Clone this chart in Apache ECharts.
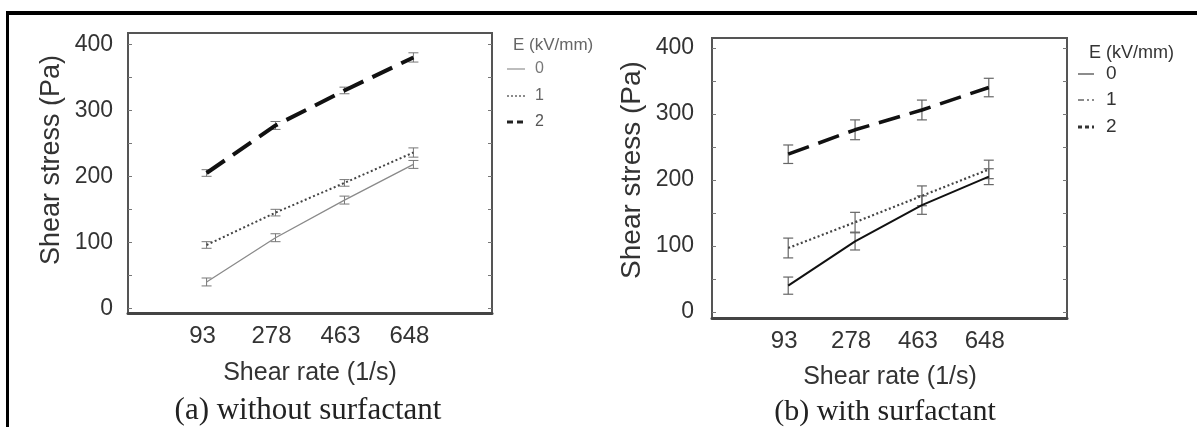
<!DOCTYPE html>
<html>
<head>
<meta charset="utf-8">
<script src="https://cdn.jsdelivr.net/npm/echarts@6/dist/echarts.min.js"></script>
<style>
  html, body { margin: 0; padding: 0; background: #fff; }
  #c { width: 1197px; height: 427px; }
</style>
</head>
<body>
<div id="c"></div>
<script>
// Shear rate categories (1/s) and stress tick labels (Pa)
const shearRates = ['93', '278', '463', '648'];
const stressTicks = [0, 100, 200, 300, 400];
const stressMinorTicks = [0, 50, 100, 150, 200, 250, 300, 350, 400];
const fieldLevels = ['0', '1', '2'];

// (a) without surfactant: shear stress at E = 0, 1, 2 kV/mm
const plainE0 = [40, 107, 164, 218];
const plainE1 = [96, 145, 190, 236];
const plainE2 = [205, 277, 330, 380];
const plainErrE0 = [6, 6, 6, 6];
const plainErrE1 = [5, 5, 5, 7];
const plainErrE2 = [5, 6, 5, 7];

// (b) with surfactant
const surfE0 = [40, 107, 162, 205];
const surfE1 = [97, 136, 176, 216];
const surfE2 = [239, 276, 306, 340];
const surfErrE0 = [13, 13, 14, 12];
const surfErrE1 = [15, 15, 15, 14];
const surfErrE2 = [14, 15, 15, 14];

const SANS = '"Liberation Sans", Arial, sans-serif';
const SERIF = '"Liberation Serif", "Times New Roman", serif';

const pts = vals => vals.map((v, i) => [i, v]);
const errPts = (vals, errs) => vals.map((v, i) => [i, v, errs[i]]);

function errorBars(name, vals, errs, xi, yi, color, lw) {
  return {
    type: 'custom',
    name: name + '-err',
    xAxisIndex: xi,
    yAxisIndex: yi,
    encode: { x: 0, y: 1 },
    z: 3,
    silent: true,
    data: errPts(vals, errs),
    renderItem: (params, api) => {
      const x = api.value(0), y = api.value(1), e = api.value(2);
      const top = api.coord([x, y + e]);
      const bot = api.coord([x, y - e]);
      const hw = 5;
      const st = { stroke: color, lineWidth: lw };
      return {
        type: 'group',
        children: [
          { type: 'line', shape: { x1: top[0], y1: top[1], x2: bot[0], y2: bot[1] }, style: st },
          { type: 'line', shape: { x1: top[0] - hw, y1: top[1], x2: top[0] + hw, y2: top[1] }, style: st },
          { type: 'line', shape: { x1: bot[0] - hw, y1: bot[1], x2: bot[0] + hw, y2: bot[1] }, style: st }
        ]
      };
    }
  };
}

function lineSeries(name, vals, xi, yi, color, width, type) {
  return {
    type: 'line',
    name: name,
    xAxisIndex: xi,
    yAxisIndex: yi,
    data: pts(vals),
    symbol: 'none',
    z: 4,
    lineStyle: { color: color, width: width, type: type },
    itemStyle: { color: color }
  };
}

function xAxisFor(grid, max) {
  return {
    gridIndex: grid,
    type: 'value',
    min: -1.14,
    max: max,
    splitLine: { show: false },
    axisTick: { show: false },
    axisLine: { show: true, onZero: false, lineStyle: { color: '#444', width: 3 } },
    axisLabel: {
      customValues: [0, 1, 2, 3],
      formatter: v => shearRates[Math.round(v)],
      fontFamily: SANS,
      fontSize: 24,
      color: '#333',
      margin: 11,
      padding: [0, 8, 0, 0]
    }
  };
}

function yAxisFor(grid, min, max, side) {
  return {
    gridIndex: grid,
    type: 'value',
    min: min,
    max: max,
    position: side,
    splitLine: { show: false },
    axisLine: { show: false, onZero: false },
    axisTick: {
      show: true, inside: true, length: 4,
      customValues: stressMinorTicks,
      lineStyle: { color: '#777', width: 1 }
    },
    axisLabel: side === 'left' ? {
      customValues: stressTicks,
      fontFamily: SANS,
      fontSize: 23,
      color: '#333',
      margin: grid === 0 ? 15 : 18
    } : { show: false }
  };
}

// legend key: a short line sample followed by the field level
function legendKey(x0, x1, y, label, stroke, width, dash, fontSize, textColor, textX) {
  return [
    { type: 'line', shape: { x1: x0, y1: y, x2: x1, y2: y },
      style: { stroke: stroke, lineWidth: width, lineDash: dash } },
    { type: 'text', x: textX, y: y,
      style: { text: label, fontFamily: SANS, fontSize: fontSize, fill: textColor, align: 'left', verticalAlign: 'middle' } }
  ];
}

const chart = echarts.init(document.getElementById('c'), null, { renderer: 'canvas' });

chart.setOption({
  animation: false,
  backgroundColor: '#fff',
  grid: [
    { left: 128, top: 33, width: 364, height: 280, show: true, borderColor: '#555', borderWidth: 2 },
    { left: 712, top: 38, width: 355, height: 280, show: true, borderColor: '#555', borderWidth: 2 }
  ],
  xAxis: [xAxisFor(0, 4.14), xAxisFor(1, 4.17)],
  yAxis: [
    yAxisFor(0, -7, 417, 'left'),
    yAxisFor(0, -7, 417, 'right'),
    yAxisFor(1, -9, 415, 'left'),
    yAxisFor(1, -9, 415, 'right')
  ],
  series: [
    lineSeries(fieldLevels[0], plainE0, 0, 0, '#8a8a8a', 1.3, 'solid'),
    lineSeries(fieldLevels[1], plainE1, 0, 0, '#444', 2, [2, 2.5]),
    lineSeries(fieldLevels[2], plainE2, 0, 0, '#111', 4, [22, 10]),
    errorBars('a0', plainE0, plainErrE0, 0, 0, '#777', 1),
    errorBars('a1', plainE1, plainErrE1, 0, 0, '#777', 1),
    errorBars('a2', plainE2, plainErrE2, 0, 0, '#777', 1),

    lineSeries('b' + fieldLevels[0], surfE0, 1, 2, '#111', 2, 'solid'),
    lineSeries('b' + fieldLevels[1], surfE1, 1, 2, '#444', 2.2, [2, 2.5]),
    lineSeries('b' + fieldLevels[2], surfE2, 1, 2, '#111', 3.5, [22, 10]),
    errorBars('b0', surfE0, surfErrE0, 1, 2, '#666', 1.2),
    errorBars('b1', surfE1, surfErrE1, 1, 2, '#666', 1.2),
    errorBars('b2', surfE2, surfErrE2, 1, 2, '#666', 1.2)
  ],
  graphic: [
    // outer frame, top and left edges
    { type: 'line', shape: { x1: 6, y1: 13, x2: 1197, y2: 13 }, style: { stroke: '#000', lineWidth: 4 } },
    { type: 'line', shape: { x1: 7.5, y1: 11, x2: 7.5, y2: 427 }, style: { stroke: '#000', lineWidth: 3 } },

    // axis titles
    { type: 'text', x: 52, y: 160, rotation: Math.PI / 2,
      style: { text: 'Shear stress (Pa)', fontFamily: SANS, fontSize: 27, fill: '#333', align: 'center', verticalAlign: 'middle' } },
    { type: 'text', x: 632, y: 170, rotation: Math.PI / 2,
      style: { text: 'Shear stress (Pa)', fontFamily: SANS, fontSize: 28, fill: '#333', align: 'center', verticalAlign: 'middle' } },
    { type: 'text', x: 310, y: 373,
      style: { text: 'Shear rate (1/s)', fontFamily: SANS, fontSize: 25, fill: '#333', align: 'center', verticalAlign: 'middle' } },
    { type: 'text', x: 890, y: 377,
      style: { text: 'Shear rate (1/s)', fontFamily: SANS, fontSize: 25, fill: '#333', align: 'center', verticalAlign: 'middle' } },

    // panel captions
    { type: 'text', x: 308, y: 411,
      style: { text: '(a) without surfactant', fontFamily: SERIF, fontSize: 31, fill: '#222', align: 'center', verticalAlign: 'middle' } },
    { type: 'text', x: 885, y: 412,
      style: { text: '(b) with surfactant', fontFamily: SERIF, fontSize: 30, fill: '#222', align: 'center', verticalAlign: 'middle' } },

    // legend headers
    { type: 'text', x: 513, y: 45,
      style: { text: 'E (kV/mm)', fontFamily: SANS, fontSize: 17, fill: '#666', align: 'left', verticalAlign: 'middle' } },
    { type: 'text', x: 1089, y: 53,
      style: { text: 'E (kV/mm)', fontFamily: SANS, fontSize: 18, fill: '#333', align: 'left', verticalAlign: 'middle' } },

    // legend keys, panel (a)
    ...legendKey(507, 525, 69, fieldLevels[0], '#999', 1.3, null, 16, '#777', 535),
    ...legendKey(507, 525, 96, fieldLevels[1], '#666', 1.5, [2, 2], 16, '#666', 535),
    ...legendKey(507, 525, 122, fieldLevels[2], '#222', 3, [6, 4], 16, '#555', 535),

    // legend keys, panel (b)
    ...legendKey(1078, 1094, 74, fieldLevels[0], '#666', 1.5, null, 19, '#333', 1106),
    ...legendKey(1078, 1094, 100, fieldLevels[1], '#666', 1.5, [6, 3, 2, 3], 19, '#333', 1106),
    ...legendKey(1078, 1094, 127, fieldLevels[2], '#333', 3, [4, 3], 19, '#333', 1106)
  ]
});
</script>
</body>
</html>
